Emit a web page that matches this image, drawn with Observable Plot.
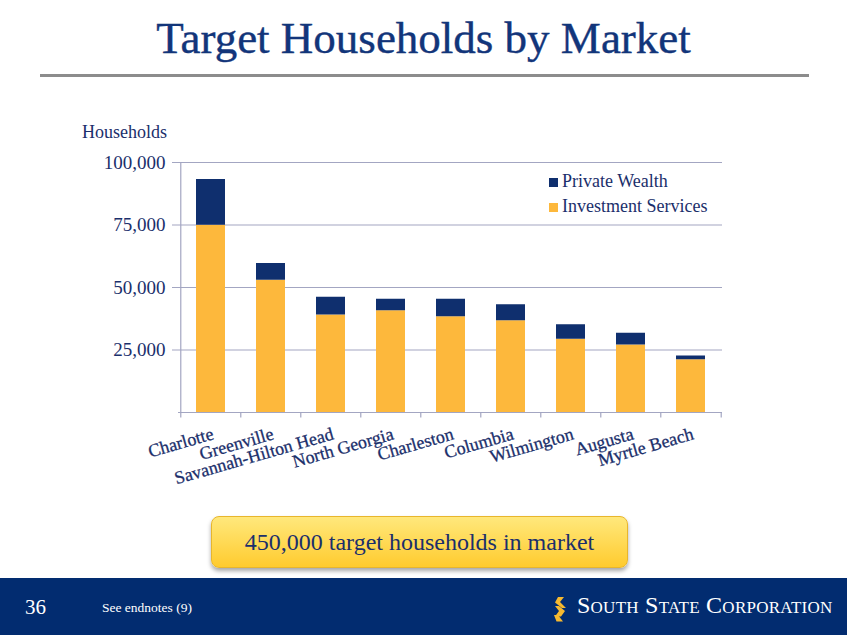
<!DOCTYPE html>
<html><head><meta charset="utf-8">
<script src="https://cdn.jsdelivr.net/npm/d3@7"></script>
<script src="https://cdn.jsdelivr.net/npm/@observablehq/plot@0.6"></script>
<style>
  html,body{margin:0;padding:0;}
  body{width:847px;height:635px;overflow:hidden;background:#fff;position:relative;font-family:"Liberation Serif","Times New Roman",serif;}
  #title{position:absolute;top:12px;left:0;width:847px;text-align:center;font-size:45px;color:#12357A;line-height:52px;-webkit-text-stroke:0.4px #12357A;}
  #rule{position:absolute;top:74px;left:40px;width:769px;height:3px;background:#8c8c8c;}
  #ylabel{position:absolute;left:82px;top:122px;font-size:18px;color:#1B2F6B;}
  #chart{position:absolute;left:0;top:140px;}
  #legend{position:absolute;left:549px;top:169px;font-size:18px;color:#1B2F6B;line-height:25px;}
  #legend .sw{display:inline-block;width:9px;height:9px;margin-right:4px;vertical-align:0px;}
  #callout{position:absolute;left:211px;top:516px;width:415px;height:50px;border-radius:8px;
    background:linear-gradient(#FFE87C,#FFCB2E);border:1px solid #E8B62C;box-shadow:0 3px 4px rgba(0,0,0,0.35);
    font-size:24px;color:#1B2F6B;display:flex;align-items:center;justify-content:center;}
  #footer{position:absolute;left:0;top:578px;width:847px;height:57px;background:#022C70;color:#fff;}
  #page{position:absolute;left:25px;top:17px;font-size:21px;}
  #notes{position:absolute;left:102px;top:22px;font-size:13.5px;}
  #logo{position:absolute;left:552px;top:19px;height:25px;}
  #logotext{position:absolute;left:577px;top:14px;font-size:24px;font-variant:small-caps;letter-spacing:0.25px;white-space:nowrap;}
</style></head>
<body>
<div id="title">Target Households by Market</div>
<div id="rule"></div>
<div id="ylabel">Households</div>
<div id="chart"></div>
<div id="legend"></div>
<div id="callout">450,000 target households in market</div>
<div id="footer">
  <div id="page">36</div>
  <div id="notes">See endnotes (9)</div>
  <svg id="logo" width="16" height="25" viewBox="0 0 16 25">
    <path d="M6 0 L12 0 L8 5 L14 11 L10 11 L3 5.5 Z" fill="#F6B930"/>
    <path d="M3 9 L7 9 L13 14 L9 19.5 L3 19.5 L7 14 Z" fill="#F6B930"/>
    <path d="M2 18 L6 18 L11 24.5 L4.5 24.5 Z" fill="#F6B930"/>
  </svg>
  <div id="logotext">South State Corporation</div>
</div>
<script>
const markets = ["Charlotte","Greenville","Savannah-Hilton Head","North Georgia","Charleston","Columbia","Wilmington","Augusta","Myrtle Beach"];
const investmentServices = [74900,52900,39000,40700,38300,36700,29300,27000,21100];
const privateWealth = [18300,6700,7100,4600,7000,6400,5800,4700,1500];
const seriesNames = ["Private Wealth","Investment Services"];
const yTicks = [25000,50000,75000,100000];

const navy = "#0F2F6E";
const yellow = "#FDB83C";
const textNavy = "#1B2F6B";
const gridColor = "#A3A6C2";

const rows = [];
markets.forEach((m,i) => {
  rows.push({market:m, series:"Investment Services", value:investmentServices[i]});
  rows.push({market:m, series:"Private Wealth", value:privateWealth[i]});
});

const W = 847, H = 360, ML = 178, MR = 125, MT = 22, MB = 88;
const step = (W - ML - MR) / markets.length;

const chart = Plot.plot({
  width: W, height: H,
  marginLeft: ML, marginRight: MR, marginTop: MT, marginBottom: MB,
  style: {fontFamily: '"Liberation Serif","Times New Roman",serif', fontSize: "18px", color: textNavy, background: "transparent", overflow: "visible"},
  x: {domain: markets, paddingInner: 0.52, paddingOuter: 0.26, axis: null},
  y: {domain: [0, 100000], axis: null},
  color: {domain: seriesNames, range: [navy, yellow]},
  marks: [
    Plot.ruleY(yTicks, {stroke: gridColor, strokeWidth: 1.2, insetLeft: -6}),
    Plot.barY(rows, {x: "market", y: "value", fill: "series"}),
    Plot.ruleY([0], {stroke: gridColor, strokeWidth: 1.2}),
    Plot.ruleX([markets[0]], {x: d => d, dx: -step/2, stroke: gridColor, strokeWidth: 1.2}),
    Plot.ruleX(markets, {x: d => d, dx: -step/2, y1: 0, y2: -2200, stroke: gridColor, strokeWidth: 1.2}),
    Plot.ruleX([markets[markets.length-1]], {x: d => d, dx: step/2, y1: 0, y2: -2200, stroke: gridColor, strokeWidth: 1.2}),
    Plot.axisY(yTicks, {tickSize: 0, tickPadding: 13, tickFormat: d3.format(","), fill: textNavy, fontSize: 19, label: null}),
    Plot.text(markets, {x: d => d, frameAnchor: "bottom", text: d => d, rotate: -16, textAnchor: "end", lineAnchor: "middle", dy: 21, dx: 2, fill: textNavy, fontSize: 18, stroke: textNavy, strokeWidth: 0.3})
  ]
});
document.getElementById("chart").appendChild(chart);

const legend = document.getElementById("legend");
seriesNames.forEach((s) => {
  const row = document.createElement("div");
  const sw = document.createElement("span");
  sw.className = "sw";
  sw.style.background = s === "Private Wealth" ? navy : yellow;
  row.appendChild(sw);
  row.appendChild(document.createTextNode(s));
  legend.appendChild(row);
});
</script>
</body></html>
